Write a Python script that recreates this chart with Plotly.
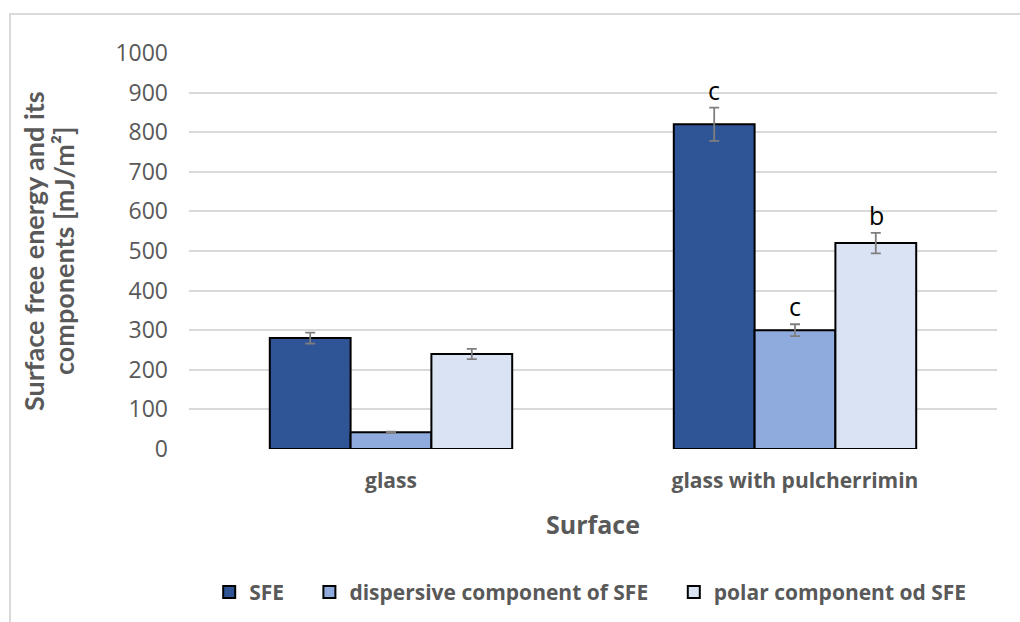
import plotly.graph_objects as go

# Surfaces compared
surfaces = ["glass", "glass with pulcherrimin"]

# Surface free energy (SFE) and its components [mJ/m²]
series_names = ["SFE", "dispersive component of SFE", "polar component od SFE"]
sfe = [280, 820]
dispersive = [42, 300]
polar = [240, 520]

# standard deviations
sfe_err = [14, 42]
dispersive_err = [2, 15]
polar_err = [13, 26]

# significance letters
sfe_letters = ["", "c"]
dispersive_letters = ["", "c"]
polar_letters = ["", "b"]

colors = ["#2f5597", "#8faadc", "#dae3f3"]
FONT = "'Open Sans', sans-serif"
TFONT = "Lato, 'Open Sans', sans-serif"
GRAY = "#595959"

values = [sfe, dispersive, polar]
errors = [sfe_err, dispersive_err, polar_err]
letters = [sfe_letters, dispersive_letters, polar_letters]
legend_ids = ["legend", "legend2", "legend3"]
legend_x = [0.025, 0.149, 0.6]

fig = go.Figure()
for name, vals, errs, col, lg in zip(series_names, values, errors, colors, legend_ids):
    fig.add_trace(go.Bar(
        name=name, x=surfaces, y=vals, legend=lg,
        marker=dict(color=col, line=dict(color="black", width=2)),
        error_y=dict(type="data", array=errs, color="#7f7f7f", thickness=1.8, width=5),
    ))

# letters sit just above each error bar
bar_px = 81
for k, (vals, errs, labs) in enumerate(zip(values, errors, letters)):
    for surf, v, e, t in zip(surfaces, vals, errs, labs):
        if t:
            fig.add_annotation(
                x=surf, y=v + e, xref="x", yref="y", text=t, showarrow=False,
                xshift=(k - 1) * bar_px, yshift=-1, yanchor="bottom",
                font=dict(family=FONT, size=25, color="black"),
            )

L, R, T, B = 189, 23, 53, 173
W, H = 1020, 622
pw, ph = W - L - R, H - T - B

# y-axis title, two rotated lines
ytitle_lines = ["Surface free energy and its", "components [mJ/m²]"]
for line, xc in zip(ytitle_lines, [33, 63]):
    fig.add_annotation(
        text=line, xref="paper", yref="paper", x=(xc - L) / pw, y=0.5,
        xanchor="center", yanchor="middle", textangle=-90, showarrow=False,
        font=dict(family=TFONT, size=27, color=GRAY, weight="bold"),
    )

# outer chart frame
fig.add_shape(
    type="rect", xref="paper", yref="paper",
    x0=(10 - L) / pw, x1=(W + 10 - L) / pw,
    y0=(T + ph - (H + 10)) / ph, y1=(T + ph - 14) / ph,
    line=dict(color="#d9d9d9", width=2), fillcolor="rgba(0,0,0,0)", layer="below",
)

legend_style = dict(
    orientation="h", y=-0.31, xanchor="left", yanchor="top",
    font=dict(family=FONT, size=21, color=GRAY, weight="bold"),
    itemwidth=30, bgcolor="rgba(0,0,0,0)",
)

fig.update_layout(
    width=W, height=H,
    margin=dict(l=L, r=R, t=T, b=B, autoexpand=False),
    paper_bgcolor="white", plot_bgcolor="white",
    barmode="group", bargap=0.4, bargroupgap=0,
    font=dict(family=FONT, color=GRAY),
    showlegend=True,
    legend=dict(x=legend_x[0], **legend_style),
    legend2=dict(x=legend_x[1], **legend_style),
    legend3=dict(x=legend_x[2], **legend_style),
    xaxis=dict(
        showgrid=False, showline=False, zeroline=False, ticks="",
        automargin=False,
        tickfont=dict(family=FONT, size=21, color=GRAY, weight="bold"),
        ticklabelstandoff=17,
        title=dict(text="Surface", standoff=23,
                   font=dict(family=FONT, size=25, color=GRAY, weight="bold")),
    ),
    yaxis=dict(
        range=[0, 1000], dtick=100, showline=False, zeroline=False, ticks="",
        automargin=False,
        showgrid=True, gridcolor="#d9d9d9", gridwidth=1.5,
        tickfont=dict(family=FONT, size=23, color=GRAY),
        ticklabelstandoff=20,
    ),
)

fig.write_html("out.html")
